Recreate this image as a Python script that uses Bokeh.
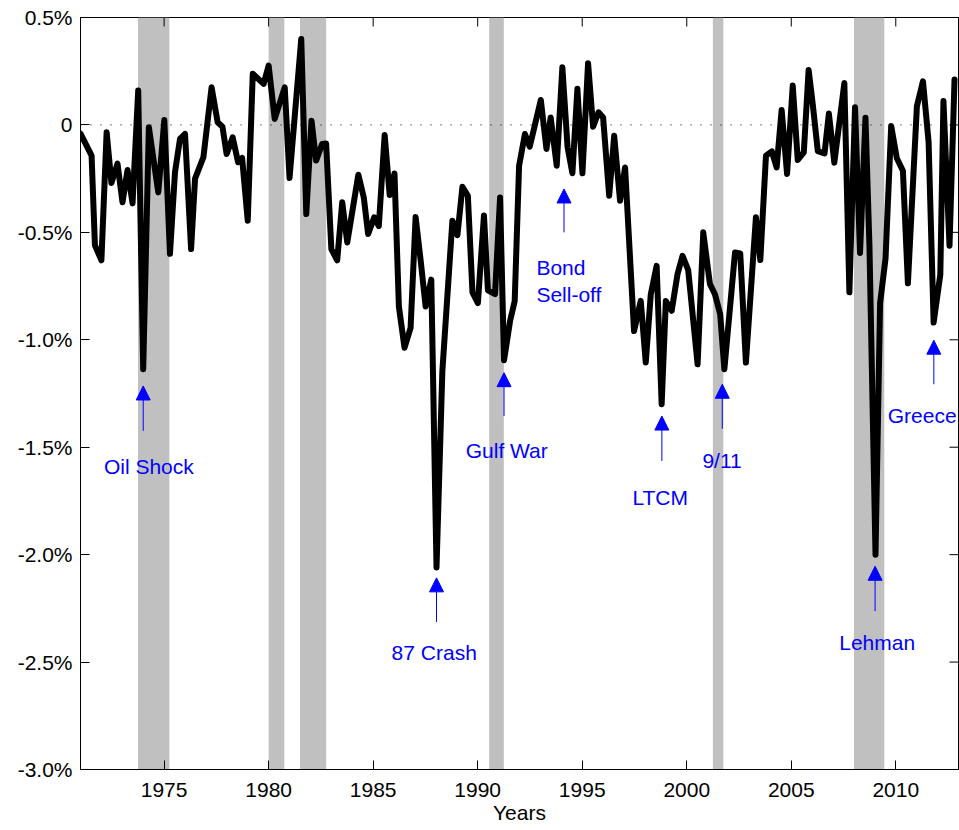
import math
from bokeh.plotting import figure
from bokeh.models import (ColumnDataSource, FixedTicker, BoxAnnotation,
                          Span, Arrow, NormalHead, Range1d)
from bokeh.core.properties import value, field
from bokeh.embed import file_html
from bokeh.resources import INLINE

# ---------------- data ----------------
years = [1971.0, 1971.53, 1971.69, 1972.0, 1972.25, 1972.48, 1972.77, 1973.01, 1973.25, 1973.49,
         1973.76, 1974.0, 1974.27, 1974.72, 1975.01, 1975.28, 1975.52, 1975.76, 1976.0, 1976.29,
         1976.48, 1976.88, 1977.27, 1977.56, 1977.79, 1977.99, 1978.28, 1978.54, 1978.73, 1979.0,
         1979.24, 1979.76, 1980.0, 1980.29, 1980.77, 1981.0, 1981.56, 1981.8, 1982.05, 1982.27,
         1982.56, 1982.75, 1983.0, 1983.28, 1983.52, 1983.76, 1984.29, 1984.55, 1984.76, 1985.05,
         1985.27, 1985.55, 1985.79, 1986.02, 1986.23, 1986.5, 1986.79, 1987.03, 1987.27, 1987.51,
         1987.78, 1988.03, 1988.31, 1988.79, 1989.03, 1989.27, 1989.53, 1989.75, 1990.01, 1990.3,
         1990.49, 1990.83, 1991.07, 1991.26, 1991.55, 1991.77, 1991.98, 1992.26, 1992.49, 1993.02,
         1993.29, 1993.49, 1993.78, 1994.05, 1994.3, 1994.53, 1994.77, 1995.01, 1995.28, 1995.52,
         1995.78, 1996.0, 1996.29, 1996.53, 1996.81, 1997.05, 1997.48, 1997.8, 1998.04, 1998.28,
         1998.56, 1998.8, 1999.0, 1999.28, 1999.56, 1999.8, 2000.07, 2000.52, 2000.79, 2001.11,
         2001.35, 2001.6, 2001.8, 2002.31, 2002.56, 2002.83, 2003.31, 2003.52, 2003.79, 2004.07,
         2004.3, 2004.54, 2004.8, 2005.07, 2005.31, 2005.6, 2005.83, 2006.03, 2006.27, 2006.59,
         2006.8, 2007.06, 2007.54, 2007.78, 2008.05, 2008.29, 2008.55, 2008.74, 2009.03, 2009.25,
         2009.51, 2009.78, 2010.05, 2010.34, 2010.58, 2011.01, 2011.3, 2011.57, 2011.81, 2012.13,
         2012.28, 2012.57, 2012.81]
values = [-0.04, -0.143, -0.56, -0.63, -0.034, -0.27, -0.18, -0.36, -0.21, -0.365,
          0.16, -1.137, -0.011, -0.314, 0.023, -0.60, -0.22, -0.065, -0.042, -0.578,
          -0.25, -0.15, 0.175, 0.012, -0.008, -0.135, -0.058, -0.174, -0.154, -0.446,
          0.238, 0.191, 0.276, 0.028, 0.175, -0.247, 0.40, -0.415, 0.02, -0.166,
          -0.089, -0.086, -0.578, -0.63, -0.36, -0.547, -0.232, -0.337, -0.508, -0.43,
          -0.471, -0.047, -0.326, -0.226, -0.845, -1.037, -0.945, -0.429, -0.629, -0.845,
          -0.72, -2.06, -1.145, -0.446, -0.513, -0.288, -0.33, -0.779, -0.829, -0.421,
          -0.77, -0.787, -0.338, -1.095, -0.912, -0.82, -0.19, -0.042, -0.101, 0.116,
          -0.112, 0.035, -0.19, 0.268, -0.104, -0.225, 0.168, -0.225, 0.287, -0.008,
          0.059, 0.035, -0.33, -0.05, -0.353, -0.198, -0.959, -0.819, -1.106, -0.788,
          -0.656, -1.30, -0.82, -0.865, -0.694, -0.609, -0.676, -1.114, -0.5, -0.741,
          -0.788, -0.881, -1.137, -0.594, -0.598, -1.106, -0.43, -0.629, -0.143, -0.123,
          -0.198, 0.07, -0.228, 0.183, -0.163, -0.128, 0.256, 0.095, -0.122, -0.133,
          0.053, -0.176, 0.195, -0.779, 0.082, -0.596, 0.033, -0.562, -2.0, -0.829,
          -0.621, -0.005, -0.155, -0.213, -0.737, 0.087, 0.203, -0.08, -0.92, -0.696,
          0.111, -0.562, 0.212]

rec_start = [1973.75, 1980.0, 1981.5, 1990.55, 2001.25, 2008.0]
rec_end = [1975.25, 1980.75, 1982.75, 1991.25, 2001.75, 2009.45]

x_ticks = [1975, 1980, 1985, 1990, 1995, 2000, 2005, 2010]
y_ticks = [0.5, 0.0, -0.5, -1.0, -1.5, -2.0, -2.5, -3.0]
y_tick_labels = ["0.5%", "0", "-0.5%", "-1.0%", "-1.5%", "-2.0%", "-2.5%", "-3.0%"]

ann_text = ["Oil Shock", "87 Crash", "Gulf War", "Bond", "Sell-off", "LTCM", "9/11", "Lehman", "Greece"]
ann_x = [1974.27, 1987.92, 1991.39, 1992.81, 1992.81, 1998.73, 2001.69, 2009.11, 2011.26]
ann_y = [-1.588, -2.457, -1.515, -0.663, -0.791, -1.735, -1.561, -2.411, -1.351]
ann_align = ["center", "center", "center", "left", "left", "center", "center", "center", "center"]

arrow_x = [1974.0, 1988.03, 1991.26, 1994.13, 1998.81, 2001.7, 2009.01, 2011.82]
arrow_tip = [-1.215, -2.108, -1.153, -0.298, -1.355, -1.207, -2.054, -1.002]
arrow_tail = [-1.424, -2.313, -1.355, -0.5, -1.564, -1.414, -2.263, -1.207]

X_MIN, X_MAX = 1971, 2013
Y_MIN, Y_MAX = -3.0, 0.5
FONT = "Liberation Sans"

# ---------------- figure ----------------
p = figure(width=959, height=830, x_range=Range1d(X_MIN, X_MAX), y_range=Range1d(Y_MIN, Y_MAX),
           output_backend="svg", toolbar_location=None,
           min_border_left=80, min_border_right=1, min_border_top=17, min_border_bottom=61,
           x_axis_label="Years")
p.grid.visible = False
p.outline_line_color = "black"
p.outline_line_width = 1
p.background_fill_color = "white"
p.border_fill_color = "white"

for s, e in zip(rec_start, rec_end):
    p.add_layout(BoxAnnotation(left=s, right=e, fill_color="#c0c0c0", fill_alpha=1.0,
                               line_color=None, level="underlay"))

p.add_layout(Span(location=0, dimension="width", line_color="black", line_width=1,
                  line_dash="1 9", level="underlay"))

src = ColumnDataSource(dict(x=years, y=values))
p.line("x", "y", source=src, line_color="black", line_width=6, line_join="round", line_cap="round")

asrc = ColumnDataSource(dict(x=arrow_x, y0=arrow_tail, y1=arrow_tip))
p.add_layout(Arrow(end=NormalHead(size=14, fill_color="blue", line_color="blue", line_width=1),
                   x_start="x", y_start="y0", x_end="x", y_end="y1", source=asrc,
                   line_color="blue", line_width=1))

lsrc = ColumnDataSource(dict(x=ann_x, y=ann_y, text=ann_text, align=ann_align))
p.text(x="x", y="y", text="text", source=lsrc, text_color="blue",
       text_font=value(FONT), text_font_size="21px", text_align=field("align"),
       text_baseline="middle")

# mirrored inward ticks on the top and right frame edges
p.ray(x=x_ticks, y=[Y_MAX] * len(x_ticks), length=9, length_units="screen",
      angle=-math.pi / 2, line_color="black", line_width=1)
p.ray(x=[X_MAX] * len(y_ticks), y=y_ticks, length=9, length_units="screen",
      angle=math.pi, line_color="black", line_width=1)

# axes
p.xaxis.ticker = FixedTicker(ticks=x_ticks)
p.yaxis.ticker = FixedTicker(ticks=y_ticks)
p.yaxis.major_label_overrides = {t: l for t, l in zip(y_ticks, y_tick_labels)}
for ax in p.xaxis + p.yaxis:
    ax.major_tick_in = 9
    ax.major_tick_out = 0
    ax.minor_tick_in = 0
    ax.minor_tick_out = 0
    ax.axis_line_color = "black"
    ax.major_tick_line_color = "black"
    ax.major_label_text_font = FONT
    ax.major_label_text_font_size = "21px"
    ax.major_label_text_color = "black"
p.xaxis.major_label_standoff = 13
p.yaxis.major_label_standoff = 8
p.xaxis.axis_label_text_font = FONT
p.xaxis.axis_label_text_font_size = "21px"
p.xaxis.axis_label_text_font_style = "normal"
p.xaxis.axis_label_text_color = "black"
p.xaxis.axis_label_standoff = 1

open("out.html", "w").write(file_html(p, INLINE))
